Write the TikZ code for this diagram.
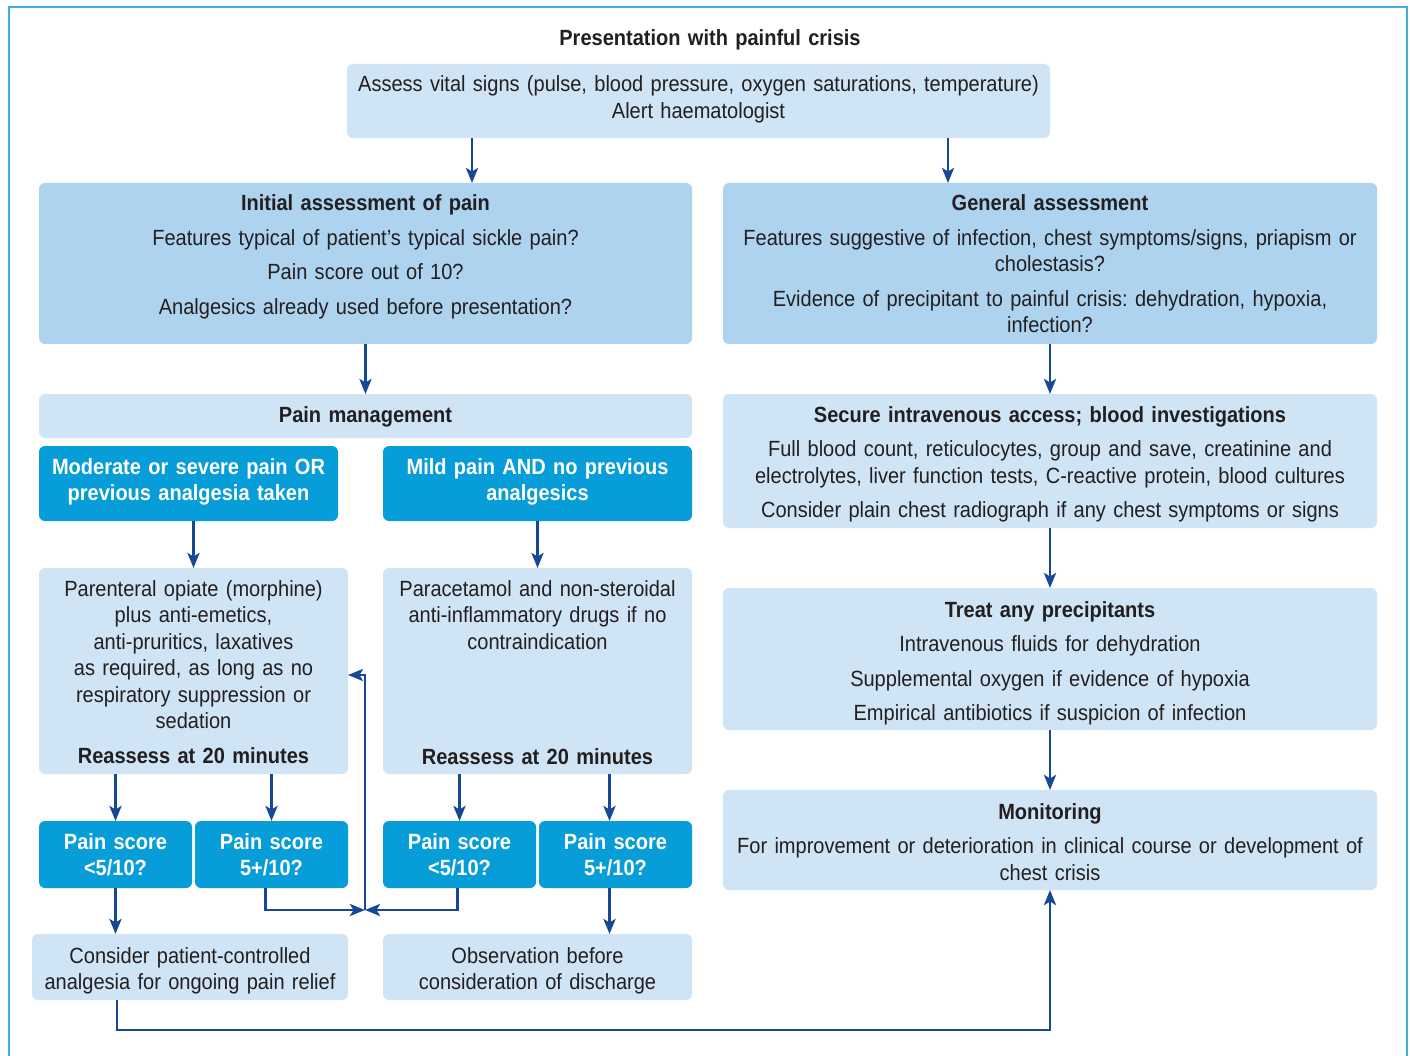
\documentclass[tikz,border=0pt]{standalone}
\usepackage{fontspec}
\setmainfont[FakeStretch=0.91]{Liberation Sans}
\usetikzlibrary{arrows.meta,calc}
\definecolor{light}{RGB}{207,228,245}
\definecolor{mid}{RGB}{174,211,239}
\definecolor{bright}{RGB}{7,157,216}
\definecolor{arrowc}{RGB}{22,72,150}
\definecolor{framec}{RGB}{64,176,228}
\definecolor{txt}{RGB}{35,31,32}
\newcommand\mkbox[6]{\node[#2, minimum width=#5-#3, minimum height=#6-#4] (#1) at (#3,#4) {};}
\newcommand\myfont{\fontsize{22}{26.5}\selectfont\frenchspacing}
\frenchspacing
\begin{document}
{\myfont\fontdimen2\font=4.5pt\bfseries\fontdimen2\font=4.7pt}%
\begin{tikzpicture}[x=1pt,y=-1pt,
  box/.style={rounded corners=6pt, inner sep=0pt, outer sep=0pt, anchor=north west},
  lightbox/.style={box, fill=light},
  midbox/.style={box, fill=mid},
  brightbox/.style={box, fill=bright},
  txtn/.style={anchor=base, align=center, inner sep=0pt, text=txt, text width=760pt, font=\myfont},
  wtxt/.style={txtn, text=white, font=\myfont\bfseries},
  arr/.style={draw=arrowc, line width=2.8pt, -{Stealth[length=15pt,width=12pt,inset=3.5pt]}},
]
\fill[white] (0,0) rectangle (1410,1056);
\useasboundingbox (0,0) rectangle (1410,1056);
\draw[framec, line width=2pt] (8.5,1056) -- (8.5,7.5) -- (1406.5,7.5) -- (1406.5,1056);

% boxes
\mkbox{vital}{lightbox}{347}{64}{1050}{138}
\mkbox{initial}{midbox}{39}{183}{692}{344}
\mkbox{general}{midbox}{723}{183}{1377}{344}
\mkbox{pm}{lightbox}{39}{394}{692}{438}
\mkbox{secure}{lightbox}{723}{394}{1377}{528}
\mkbox{moderate}{brightbox}{39}{446}{338}{521}
\mkbox{mild}{brightbox}{383}{446}{692}{521}
\mkbox{parenteral}{lightbox}{39}{568}{348}{774}
\mkbox{parac}{lightbox}{383}{568}{692}{774}
\mkbox{treat}{lightbox}{723}{588}{1377}{730}
\mkbox{monitoring}{lightbox}{723}{790}{1377}{890}
\mkbox{ps1}{brightbox}{39}{821}{192}{888}
\mkbox{ps2}{brightbox}{195}{821}{348}{888}
\mkbox{ps3}{brightbox}{383}{821}{536}{888}
\mkbox{ps4}{brightbox}{539}{821}{692}{888}
\mkbox{consider}{lightbox}{32}{934}{348}{1000}
\mkbox{obs}{lightbox}{383}{934}{692}{1000}

% texts
\node[txtn] (title) at (710,46) {\textbf{Presentation with painful crisis}};
\node[txtn] (vitalt) at (698.5,92) {Assess vital signs (pulse, blood pressure, oxygen saturations, temperature)\\Alert haematologist};
\node[txtn] (initialt) at (365.5,211) {\textbf{Initial assessment of pain}\\[8pt]Features typical of patient’s typical sickle pain?\\[8pt]Pain score out of 10?\\[8pt]Analgesics already used before presentation?};
\node[txtn] (generalt) at (1050,211) {\textbf{General assessment}\\[8pt]Features suggestive of infection, chest symptoms/signs, priapism or\\cholestasis?\\[8pt]Evidence of precipitant to painful crisis: dehydration, hypoxia,\\infection?};
\node[txtn] (pmt) at (365.5,422) {\textbf{Pain management}};
\node[txtn] (securet) at (1050,422) {\textbf{Secure intravenous access; blood investigations}\\[8pt]Full blood count, reticulocytes, group and save, creatinine and\\electrolytes, liver function tests, C-reactive protein, blood cultures\\[8pt]Consider plain chest radiograph if any chest symptoms or signs};
\node[wtxt] (moderatet) at (188.5,474) {Moderate or severe pain OR\\previous analgesia taken};
\node[wtxt] (mildt) at (537.5,474) {Mild pain AND no previous\\analgesics};
\node[txtn] (parenteralt) at (193.5,596) {Parenteral opiate (morphine)\\plus anti-emetics,\\anti-pruritics, laxatives\\as required, as long as no\\respiratory suppression or\\sedation\\[8pt]\textbf{Reassess at 20 minutes}};
\node[txtn] (parac1) at (537.5,596) {Paracetamol and non-steroidal\\anti-inflammatory drugs if no\\contraindication};
\node[txtn] (parac2) at (537.5,764) {\textbf{Reassess at 20 minutes}};
\node[txtn] (treatt) at (1050,617) {\textbf{Treat any precipitants}\\[8pt]Intravenous fluids for dehydration\\[8pt]Supplemental oxygen if evidence of hypoxia\\[8pt]Empirical antibiotics if suspicion of infection};
\node[txtn] (monitoringt) at (1050,819) {\textbf{Monitoring}\\[8pt]For improvement or deterioration in clinical course or development of\\chest crisis};
\node[wtxt] (ps1t) at (115.5,849) {Pain score\\<5/10?};
\node[wtxt] (ps2t) at (271.5,849) {Pain score\\5+/10?};
\node[wtxt] (ps3t) at (459.5,849) {Pain score\\<5/10?};
\node[wtxt] (ps4t) at (615.5,849) {Pain score\\5+/10?};
\node[txtn] (considert) at (190,963) {Consider patient-controlled\\analgesia for ongoing pain relief};
\node[txtn] (obst) at (537.5,963) {Observation before\\consideration of discharge};

% connectors
\draw[arr] ([xshift=125]vital.south west) -- ([xshift=433]initial.north west);
\draw[arr] ([xshift=601]vital.south west) -- ([xshift=225]general.north west);
\draw[arr] (initial.south) -- (pm.north);
\draw[arr] (general.south) -- (secure.north);
\draw[arr] (moderate.south -| parenteral.north) -- (parenteral.north);
\draw[arr] (mild.south) -- (parac.north);
\draw[arr] (secure.south) -- (treat.north);
\draw[arr] (treat.south) -- (monitoring.north);
\draw[arr] (parenteral.south -| ps1.north) -- (ps1.north);
\draw[arr] (parenteral.south -| ps2.north) -- (ps2.north);
\draw[arr] (parac.south -| ps3.north) -- (ps3.north);
\draw[arr] ([xshift=-6]ps4.north |- parac.south) -- ([xshift=-6]ps4.north);
\draw[arr] (ps1.south) -- (ps1.south |- consider.north);
\draw[arr] ([xshift=-6]ps4.south) -- ([xshift=-6]ps4.south |- obs.north);
\coordinate (j) at (365,910);
\draw[arr] ([xshift=-6]ps2.south) |- (j);
\draw[arr] ([xshift=-2]ps3.south) |- (j);
\draw[arr] (j) |- ([yshift=-4]parenteral.east);
\coordinate (bl) at (117,1030);
\draw[arr] (consider.south -| bl) -- (bl) -| (monitoring.south);
\end{tikzpicture}
\end{document}
